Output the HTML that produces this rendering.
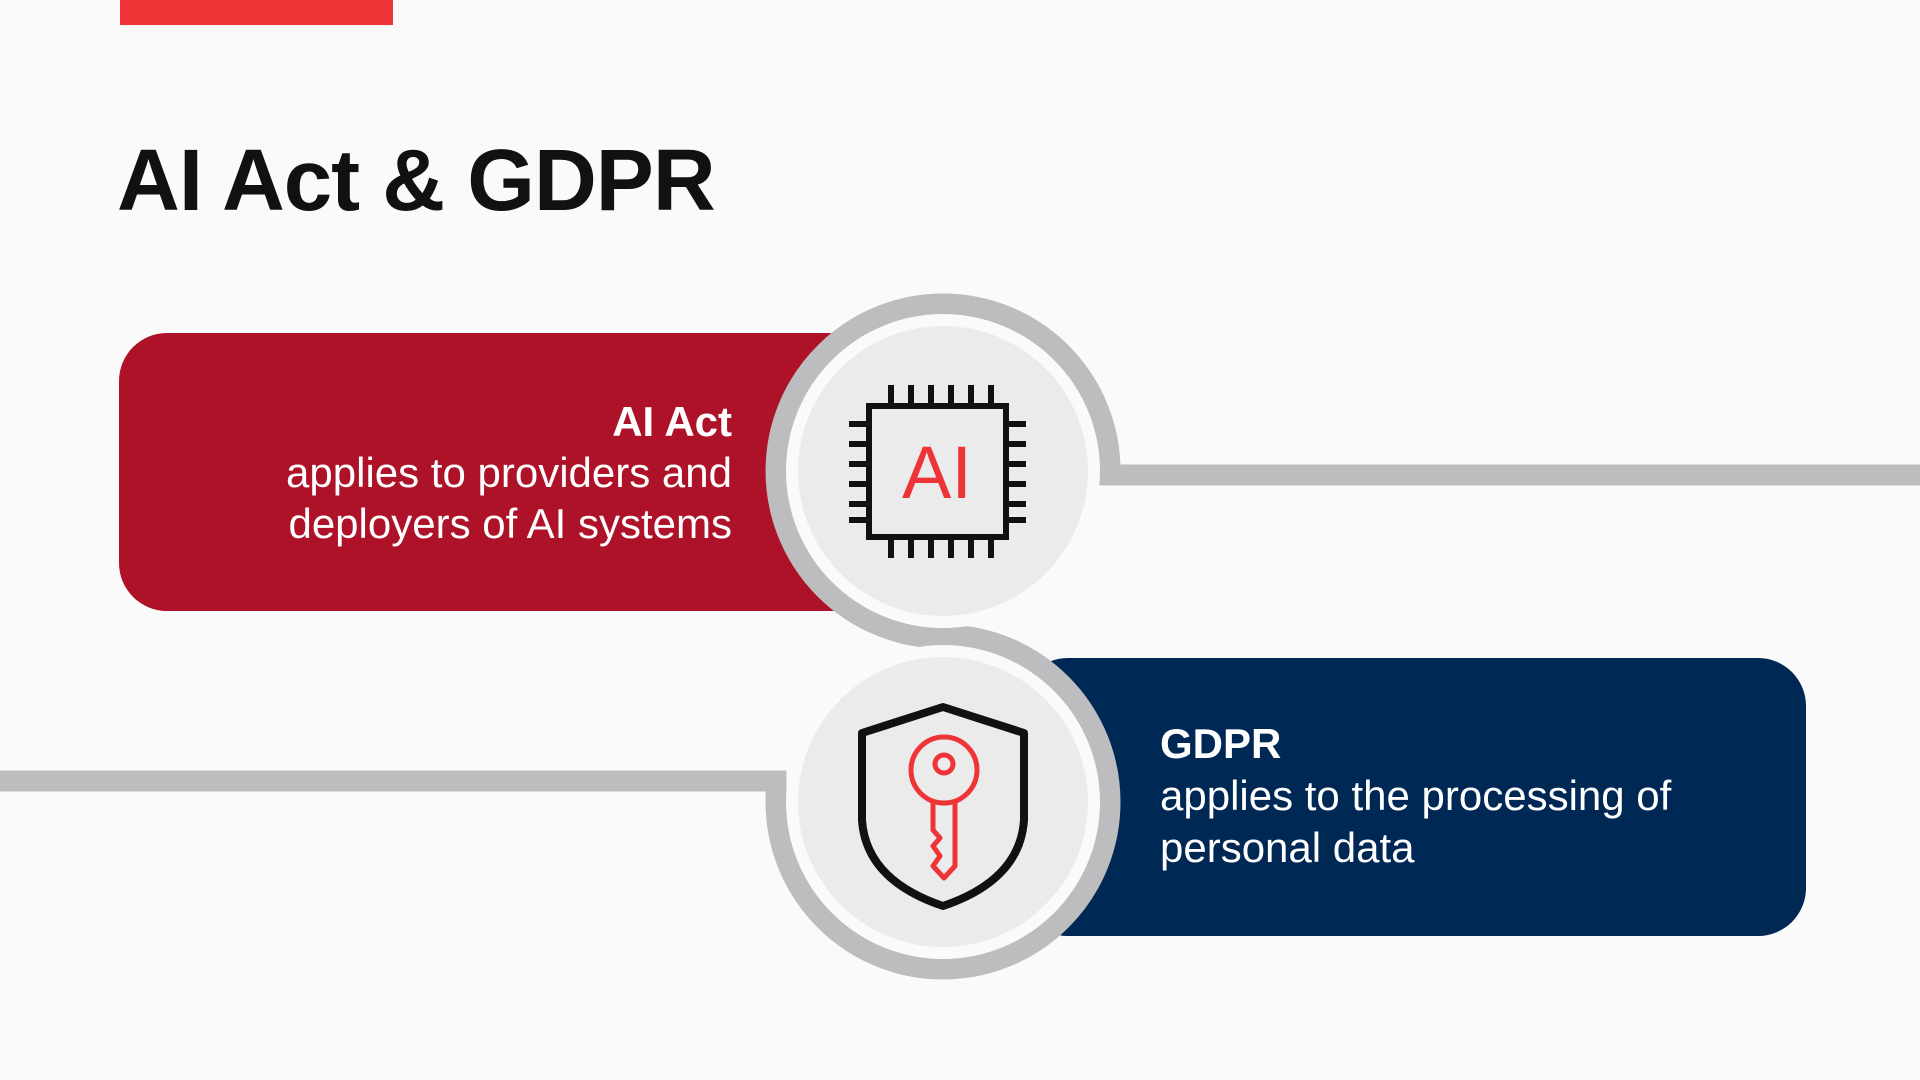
<!DOCTYPE html>
<html><head><meta charset="utf-8"><style>
html,body{margin:0;padding:0;width:1920px;height:1080px;overflow:hidden;background:#fafafa;font-family:"Liberation Sans",Arial,sans-serif;}
.abs{position:absolute}
</style></head><body>
<div class="abs" style="left:120px;top:0;width:273px;height:25px;background:#ee3437"></div>
<div class="abs" style="left:117px;top:131px;font-size:87px;font-weight:bold;color:#111;letter-spacing:-1px">AI Act &amp; GDPR</div>
<div class="abs" style="left:119px;top:333px;width:760px;height:278px;background:#ad1228;border-radius:48px"></div>
<div class="abs" style="left:1020px;top:658px;width:786px;height:278px;background:#002855;border-radius:48px"></div>
<svg class="abs" style="left:0;top:0" width="1920" height="1080">
<path d="M1920 475 L1110 475 A167 167 0 1 0 943 638 L943 635 A167 167 0 1 1 776 802 L776 781 L0 781" fill="none" stroke="#bdbdbf" stroke-width="21"/>
<circle cx="943" cy="471" r="157" fill="#fafafa"/>
<circle cx="943" cy="471" r="145" fill="#ebebeb"/>
<circle cx="943" cy="802" r="157" fill="#fafafa"/>
<circle cx="943" cy="802" r="145" fill="#ebebeb"/>
<g stroke="#111" stroke-width="6" fill="none">
<rect x="869" y="406" width="137" height="131"/>
<path d="M891 406v-21M911 406v-21M931 406v-21M951 406v-21M971 406v-21M991 406v-21
M891 537v21M911 537v21M931 537v21M951 537v21M971 537v21M991 537v21
M869 424h-20M869 444h-20M869 464h-20M869 484h-20M869 504h-20M869 520h-20
M1006 424h20M1006 444h20M1006 464h20M1006 484h20M1006 504h20M1006 520h20"/>
</g>
<text x="937" y="498" text-anchor="middle" font-family="Liberation Sans,sans-serif" font-size="74" fill="#ee3437">AI</text>
<path d="M943 707 L1024 733 L1024 820 Q1020 880 943 906 Q866 880 862 820 L862 733 Z" fill="none" stroke="#111" stroke-width="8" stroke-linejoin="round"/>
<g stroke="#ee3437" stroke-width="5" fill="none" stroke-linejoin="round">
<circle cx="944" cy="770" r="33"/>
<circle cx="944" cy="764" r="9"/>
<path d="M933 801 L933 830 L940 838 L933 846 L940 856 L933 866 L944 878 L955 866 L955 801"/>
</g>
</svg>
<div class="abs" style="right:1188px;top:396px;text-align:right;color:#fff;font-size:42px;line-height:51px">
<b>AI Act</b><br>applies to providers and<br>deployers of AI systems</div>
<div class="abs" style="left:1160px;top:718px;color:#fff;font-size:42px;line-height:52px">
<b>GDPR</b><br>applies to the processing of<br>personal data</div>
</body></html>
